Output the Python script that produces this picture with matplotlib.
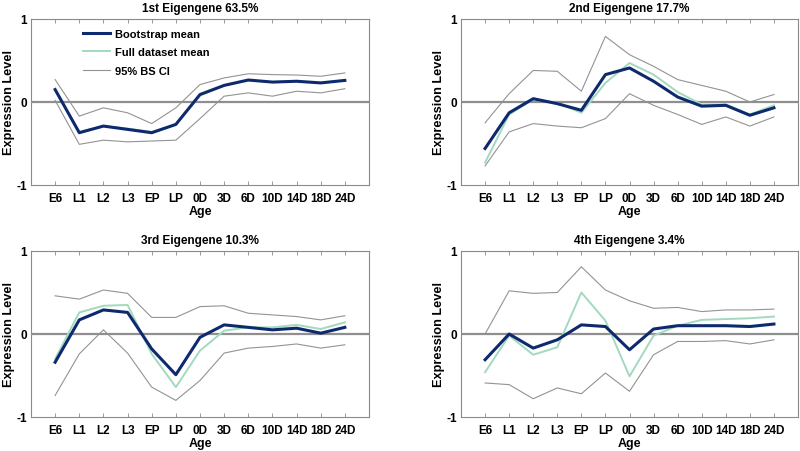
import numpy as np
import matplotlib
matplotlib.use("Agg")
import matplotlib.pyplot as plt

plt.rcParams['font.family'] = ['Liberation Sans', 'DejaVu Sans']
plt.rcParams['font.weight'] = 'bold'

ages = ["E6", "L1", "L2", "L3", "EP", "LP", "0D", "3D", "6D", "10D", "14D", "18D", "24D"]
titles = ["1st Eigengene 63.5%", "2nd Eigengene 17.7%",
          "3rd Eigengene 10.3%", "4th Eigengene 3.4%"]

# panel 1
boot1 = [0.15, -0.37, -0.29, -0.33, -0.37, -0.27, 0.09, 0.20, 0.265, 0.24, 0.25, 0.23, 0.26]
full1 = [0.14, -0.36, -0.29, -0.32, -0.36, -0.27, 0.08, 0.20, 0.26, 0.24, 0.25, 0.23, 0.26]
upper1 = [0.27, -0.17, -0.07, -0.13, -0.26, -0.07, 0.21, 0.29, 0.34, 0.33, 0.325, 0.31, 0.35]
lower1 = [0.02, -0.51, -0.46, -0.48, -0.47, -0.46, -0.20, 0.07, 0.11, 0.07, 0.13, 0.11, 0.16]

# panel 2
boot2 = [-0.56, -0.13, 0.04, -0.02, -0.10, 0.33, 0.41, 0.25, 0.06, -0.05, -0.04, -0.16, -0.07]
full2 = [-0.73, -0.15, 0.03, -0.01, -0.13, 0.23, 0.47, 0.33, 0.12, -0.03, -0.03, -0.15, -0.04]
upper2 = [-0.25, 0.10, 0.38, 0.37, 0.13, 0.79, 0.57, 0.43, 0.27, 0.20, 0.13, 0.00, 0.09]
lower2 = [-0.77, -0.36, -0.26, -0.29, -0.31, -0.20, 0.10, -0.04, -0.15, -0.27, -0.18, -0.29, -0.18]

# panel 3
boot3 = [-0.34, 0.17, 0.29, 0.26, -0.18, -0.49, -0.04, 0.11, 0.08, 0.05, 0.07, 0.01, 0.08]
full3 = [-0.30, 0.26, 0.34, 0.35, -0.24, -0.64, -0.20, 0.04, 0.08, 0.08, 0.11, 0.06, 0.14]
upper3 = [0.46, 0.42, 0.53, 0.49, 0.20, 0.20, 0.33, 0.34, 0.25, 0.23, 0.21, 0.17, 0.22]
lower3 = [-0.74, -0.24, 0.05, -0.23, -0.64, -0.80, -0.56, -0.23, -0.17, -0.15, -0.12, -0.17, -0.13]

# panel 4
boot4 = [-0.31, 0.00, -0.17, -0.07, 0.11, 0.09, -0.19, 0.06, 0.10, 0.10, 0.10, 0.09, 0.12]
full4 = [-0.46, -0.02, -0.25, -0.16, 0.50, 0.16, -0.51, -0.02, 0.10, 0.17, 0.18, 0.19, 0.21]
upper4 = [0.00, 0.52, 0.49, 0.50, 0.81, 0.53, 0.40, 0.31, 0.32, 0.27, 0.29, 0.29, 0.30]
lower4 = [-0.59, -0.61, -0.78, -0.65, -0.72, -0.47, -0.69, -0.25, -0.09, -0.09, -0.08, -0.12, -0.07]

panels = [(boot1, full1, upper1, lower1), (boot2, full2, upper2, lower2),
          (boot3, full3, upper3, lower3), (boot4, full4, upper4, lower4)]

W, H = 800, 452
# axes boxes in pixels: left, right, top, bottom
boxes = [(31, 369, 20, 186), (461, 798, 20, 186),
         (31, 369, 252, 418), (461, 798, 252, 418)]

navy = "#0e2a6e"
mint = "#a3d9bf"
grey = "#939393"
spine_c = "#8a8a8a"

fig = plt.figure(figsize=(8, 4.52), dpi=100)
x = np.arange(1, len(ages) + 1)

for i, (boot, full, upper, lower) in enumerate(panels):
    l, r, t, b = boxes[i]
    ax = fig.add_axes([l / W, 1 - b / H, (r - l) / W, (b - t) / H])
    ax.axhline(0, color="#8f8f8f", lw=1.6, zorder=1)
    ax.plot(x, upper, color=grey, lw=0.8, zorder=2, label="95% BS CI")
    ax.plot(x, lower, color=grey, lw=0.8, zorder=2)
    ax.plot(x, full, color=mint, lw=1.4, zorder=3, label="Full dataset mean")
    ax.plot(x, boot, color=navy, lw=2.2, zorder=4, label="Bootstrap mean")
    ax.set_xlim(0, 14)
    ax.set_ylim(-1, 1)
    ax.set_xticks(x)
    ax.set_xticklabels(ages, fontsize=8.5, fontweight="bold")
    ax.set_yticks([-1, 0, 1])
    ax.set_yticklabels(["-1", "0", "1"], fontsize=8.5, fontweight="bold")
    ax.tick_params(direction="in", length=3, width=0.6, color=spine_c,
                   top=True, right=True)
    ax.tick_params(axis="x", pad=5)
    ax.tick_params(axis="y", pad=3)
    for s in ax.spines.values():
        s.set_color(spine_c)
        s.set_linewidth(0.8)
    ax.set_title(titles[i], fontsize=8.5, fontweight="bold", pad=6)
    ax.set_xlabel("Age", fontsize=9, fontweight="bold", labelpad=1)
    ax.set_ylabel("Expression Level", fontsize=9.2, fontweight="bold", labelpad=1)
    if i == 0:
        h, lab = ax.get_legend_handles_labels()
        order = [2, 1, 0]
        ax.legend([h[k] for k in order], [lab[k] for k in order],
                  loc="upper left", bbox_to_anchor=(0.125, 1.0), frameon=False,
                  fontsize=8, handlelength=2.4, handletextpad=0.5,
                  labelspacing=0.75)

fig.savefig("out.png", dpi=100)
